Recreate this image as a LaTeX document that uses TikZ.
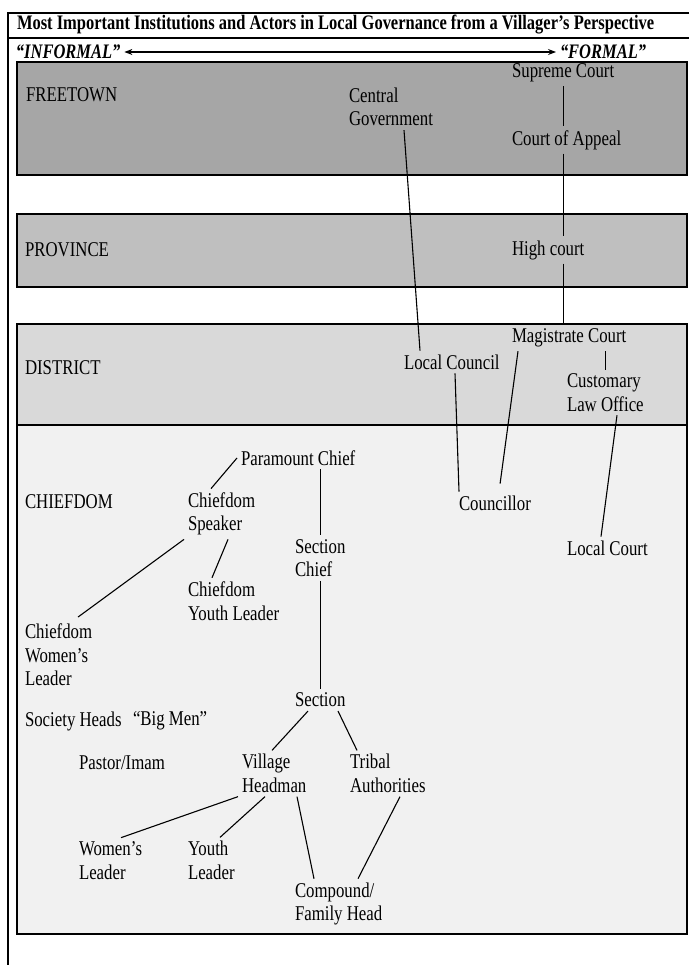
\documentclass[tikz,border=0pt]{standalone}
\usepackage{fontspec}
\setmainfont{Liberation Serif}[FakeStretch=0.8]
\usetikzlibrary{
  arrows.meta,
}
\definecolor{ftown}{gray}{0.65}
\definecolor{prov}{gray}{0.75}
\definecolor{dist}{gray}{0.85}
\definecolor{chief}{gray}{0.945}
\tikzset{
  x = 1pt,
  y = -1pt,
  >={Stealth[length=8pt,width=6pt]},
  t/.style={
    anchor=west, inner sep=4pt, outer sep=0pt, align=left,
    font=\fontsize{21}{23.5}\selectfont,
  },
  hd/.style={t, font=\fontsize{20.6}{23}\selectfont\bfseries},
  lvl/.style={draw, line width=1.2pt},
  con/.style={line width=1.1pt},
}

\begin{document}
\begin{tikzpicture}
  \useasboundingbox (0,0) rectangle (689,965);
  % frame and heading
  \draw[line width=1.2pt] (689,13) -- (8,13) -- (8,965);
  \draw[line width=1.2pt] (8,38) -- (689,38);
  \node[hd](Title) at (13,25)
    {Most Important Institutions and Actors in Local Governance from a Villager’s Perspective};
  \node[hd, font=\fontsize{20.6}{23}\selectfont\bfseries\itshape](Inf) at (12,52) {“INFORMAL”};
  \node[hd, font=\fontsize{20.6}{23}\selectfont\bfseries\itshape](Form) at (556,52) {“FORMAL”};
  \draw[<->, line width=1.1pt](Inf.east) -- (Form.west);
  %% levels
  \draw[lvl, fill=ftown] (17,62) rectangle (687,175);
  \draw[lvl, fill=prov] (17,214) rectangle (687,287);
  \draw[lvl, fill=dist] (17,324) rectangle (687,425);
  \draw[lvl, fill=chief] (17,425) rectangle (687,934);
  \node[t](Freetown) at (22,95) {FREETOWN};
  \node[t](Province) at (21,250) {PROVINCE};
  \node[t](District) at (21,368) {DISTRICT};
  \node[t](Chiefdom) at (21,502) {CHIEFDOM};
  %% formal side
  \node[t](SupC) at (508,73) {Supreme Court};
  \node[t](Appeal) at (508,140) {Court of Appeal};
  \node[t](CentGov) at (345,107) {Central\\Government};
  \node[t](High) at (508,250) {High court};
  \node[t](Magis) at (508,338) {Magistrate Court};
  \node[t](LocCoun) at (400,362) {Local Council};
  \node[t](CustLaw) at (563,392.5) {Customary\\Law Office};
  \node[t](Counc) at (455,503) {Councillor};
  \node[t](LocCourt) at (563,548) {Local Court};
  %% chiefdom
  \node[t](Para) at (237,458) {Paramount Chief};
  \node[t](Speak) at (184,514) {Chiefdom\\Speaker};
  \node[t](SecChief) at (291,558) {Section\\Chief};
  \node[t](CYouth) at (184,601) {Chiefdom\\Youth Leader};
  \node[t](CWomen) at (21,655) {Chiefdom\\Women’s\\Leader};
  \node[t](Sec) at (291,700) {Section};
  \node[t](Society) at (21,721) {Society Heads};
  \node[t](BigMen) at (129,721) {“Big Men”};
  \node[t](Pastor) at (75,763) {Pastor/Imam};
  \node[t](Head) at (238,773.5) {Village\\Headman};
  \node[t](Tribal) at (346,773.5) {Tribal\\Authorities};
  \node[t](Women) at (75,860.5) {Women’s\\Leader};
  \node[t](Youth) at (184,860.5) {Youth\\Leader};
  \node[t](Family) at (291,904) {Compound/\\Family Head};
  %% connectors
  \draw[con](SupC.south) -- (SupC.south |- Appeal.north);
  \draw[con](SupC.south |- Appeal.south) -- (SupC.south |- High.north);
  \draw[con](SupC.south |- High.south) -- (SupC.south |- Magis.north);
  \draw[con]([xshift=59pt]CentGov.south west) -- ([xshift=20pt]LocCoun.north west);
  \draw[con](Magis.south -| CustLaw.north) -- (CustLaw.north);
  \draw[con]([xshift=55pt]LocCoun.south west) -- ([xshift=4pt]Counc.north west);
  \draw[con, shorten >=8pt]([xshift=10pt]Magis.south west) -- ([xshift=44pt]Counc.north west);
  \draw[con]([xshift=54pt]CustLaw.south west) -- ([xshift=38pt]LocCourt.north west);
  \draw[con](Para.west) -- ([xshift=27pt]Speak.north west);
  \draw[con](SecChief.north |- Para.south) -- (SecChief.north);
  \draw[con]([xshift=44pt]Speak.south west) -- ([xshift=28pt]CYouth.north west);
  \draw[con, shorten >=5pt](Speak.south west) -- ([xshift=53pt]CWomen.north west);
  \draw[con](SecChief.south) -- (Sec.north);
  \draw[con]([xshift=17pt]Sec.south west) -- ([xshift=34pt]Head.north west);
  \draw[con]([xshift=47pt]Sec.south west) -- ([xshift=11pt]Tribal.north west);
  \draw[con](Head.south west) -- ([xshift=46pt]Women.north west);
  \draw[con]([xshift=27pt]Head.south west) -- ([xshift=36pt]Youth.north west);
  \draw[con]([xshift=59pt]Head.south west) -- ([xshift=23pt]Family.north west);
  \draw[con]([xshift=54pt]Tribal.south west) -- ([xshift=67pt]Family.north west);
\end{tikzpicture}
\end{document}
